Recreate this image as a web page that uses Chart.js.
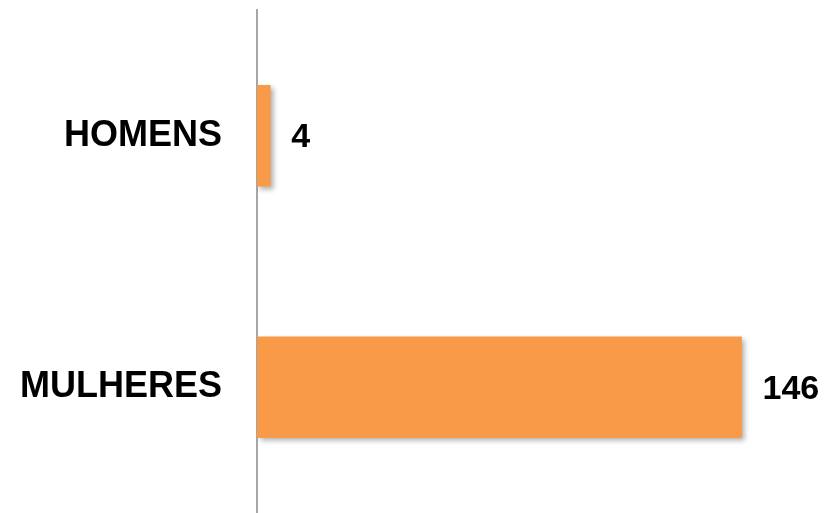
<!DOCTYPE html>
<html>
<head>
<meta charset="utf-8">
<script src="https://cdn.jsdelivr.net/npm/chart.js@4"></script>
<style>
  html, body { margin: 0; padding: 0; background: #ffffff; }
  #wrap { width: 828px; height: 513px; }
</style>
</head>
<body>
<div id="wrap"><canvas id="barchart" width="828" height="513"></canvas></div>
<script>
// data
var categories = ['HOMENS', 'MULHERES'];
var counts = [4, 146];
var barColor = '#F99A48';

// soft drop shadow under the bars
var barShadow = {
  id: 'barShadow',
  beforeDatasetsDraw: function(chart) {
    var ctx = chart.ctx;
    ctx.save();
    ctx.shadowColor = 'rgba(0,0,0,0.3)';
    ctx.shadowOffsetX = 3;
    ctx.shadowOffsetY = 3;
    ctx.shadowBlur = 5;
  },
  afterDatasetsDraw: function(chart) {
    chart.ctx.restore();
  }
};

// value next to each bar
var valueLabels = {
  id: 'valueLabels',
  afterDraw: function(chart) {
    var ctx = chart.ctx;
    var meta = chart.getDatasetMeta(0);
    ctx.save();
    ctx.font = 'bold 34px "Liberation Sans", Arial, sans-serif';
    ctx.fillStyle = '#000000';
    ctx.textAlign = 'left';
    ctx.textBaseline = 'middle';
    meta.data.forEach(function(bar, i) {
      ctx.fillText(String(counts[i]), bar.x + 21, bar.y + 2);
    });
    ctx.restore();
  }
};

var ctx = document.getElementById('barchart');
var chart = new Chart(ctx, {
  type: 'bar',
  data: {
    labels: categories,
    datasets: [{
      label: 'Total',
      data: counts,
      backgroundColor: barColor,
      borderWidth: 0,
      barThickness: 101
    }]
  },
  options: {
    indexAxis: 'y',
    responsive: false,
    animation: false,
    layout: { padding: { left: 0, right: 40, top: 10, bottom: 0 } },
    plugins: {
      legend: { display: false },
      tooltip: { enabled: false }
    },
    scales: {
      x: {
        display: false,
        min: 0,
        max: 160
      },
      y: {
        grid: { display: false, drawTicks: false },
        border: { display: true, color: '#a6a6a6', width: 2 },
        ticks: {
          color: '#000000',
          padding: 35,
          font: { family: '"Liberation Sans", Arial, sans-serif', size: 36, weight: 'bold' }
        },
        afterFit: function(scale) {
          // keep the axis at x=257 and drop the extra top/bottom tick padding
          scale.width = 257;
          scale.paddingTop = 0;
          scale.paddingBottom = 0;
        }
      }
    }
  },
  plugins: [barShadow, valueLabels]
});
</script>
</body>
</html>
